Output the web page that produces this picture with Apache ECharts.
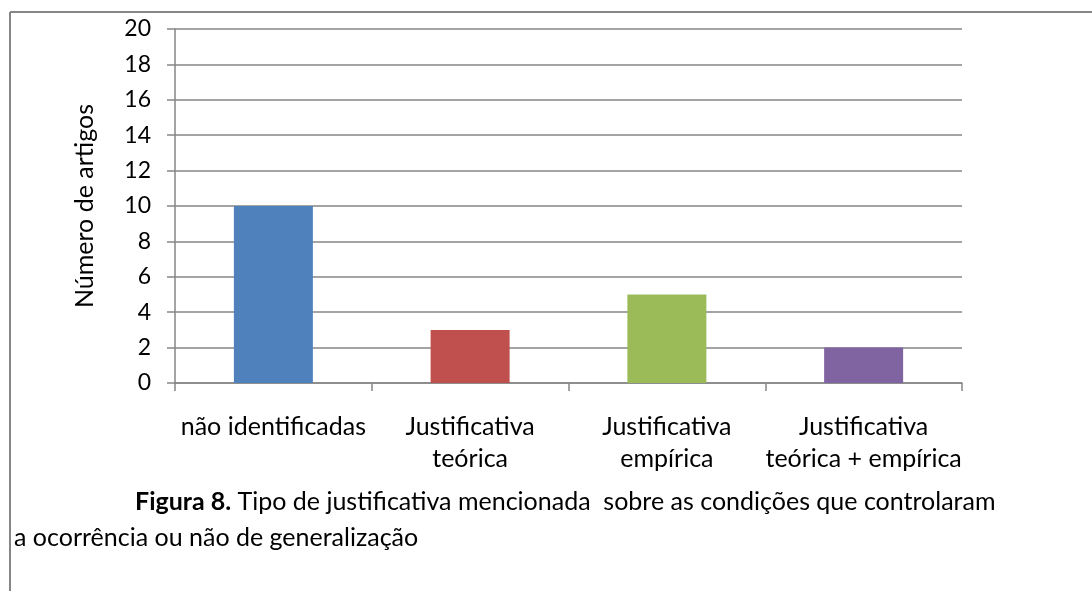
<!DOCTYPE html>
<html>
<head>
<meta charset="utf-8">
<script src="https://cdn.jsdelivr.net/npm/echarts@6/dist/echarts.min.js"></script>
<style>
  html, body { margin: 0; padding: 0; background: #fff; }
  #chart { width: 1092px; height: 591px; }
</style>
</head>
<body>
<div id="chart"></div>
<script>
// categorias e valores
var categories = [
  "não identificadas",
  "Justificativa\nteórica",
  "Justificativa\nempírica",
  "Justificativa\nteórica + empírica"
];
var values = [10, 3, 5, 2];
var barColors = ["#4F81BD", "#C0504D", "#9BBB59", "#8064A2"];
var yTicks = { min: 0, max: 20, interval: 2 };

var axisGray = "#868686";
var fontName = "Lato, 'Open Sans', sans-serif";

var chart = echarts.init(document.getElementById("chart"));

var option = {
  animation: false,
  backgroundColor: "#fff",
  grid: { left: 175, right: 130, top: 29, bottom: 208 },
  xAxis: {
    type: "category",
    data: categories,
    axisLine: { lineStyle: { color: axisGray, width: 1.5 } },
    axisTick: { show: true, length: 8, alignWithLabel: false, lineStyle: { color: axisGray, width: 1.5 } },
    axisLabel: {
      color: "#000",
      fontFamily: fontName,
      fontSize: 25,
      lineHeight: 32,
      margin: 28,
      interval: 0
    }
  },
  yAxis: {
    type: "value",
    min: yTicks.min,
    max: yTicks.max,
    interval: yTicks.interval,
    name: "Número de artigos",
    nameLocation: "middle",
    nameGap: 78,
    nameRotate: 90,
    nameTextStyle: { color: "#000", fontFamily: fontName, fontSize: 25 },
    axisLine: { show: true, lineStyle: { color: axisGray, width: 1.5 } },
    axisTick: { show: true, length: 8, lineStyle: { color: axisGray, width: 1.5 } },
    splitLine: { lineStyle: { color: axisGray, width: 1.5 } },
    axisLabel: { color: "#000", fontFamily: fontName, fontSize: 23, margin: 24 }
  },
  series: [{
    type: "bar",
    barWidth: 79,
    data: values.map(function (v, i) {
      return { value: v, itemStyle: { color: barColors[i] } };
    })
  }],
  graphic: [
    // moldura da figura (topo e esquerda)
    { type: "line", shape: { x1: 10, y1: 12, x2: 1092, y2: 12 }, style: { stroke: axisGray, lineWidth: 2 } },
    { type: "line", shape: { x1: 10, y1: 12, x2: 10, y2: 591 }, style: { stroke: axisGray, lineWidth: 2 } },
    {
      type: "text",
      left: 135,
      top: 489,
      style: {
        text: "{b|Figura 8.} Tipo de justificativa mencionada  sobre as condições que controlaram",
        fill: "#000",
        font: "25px " + fontName,
        rich: { b: { fontWeight: "bold", fontSize: 25, fontFamily: fontName, fill: "#000" } }
      }
    },
    {
      type: "text",
      left: 14,
      top: 525,
      style: {
        text: "a ocorrência ou não de generalização",
        fill: "#000",
        font: "25px " + fontName
      }
    }
  ]
};

chart.setOption(option);
</script>
</body>
</html>
